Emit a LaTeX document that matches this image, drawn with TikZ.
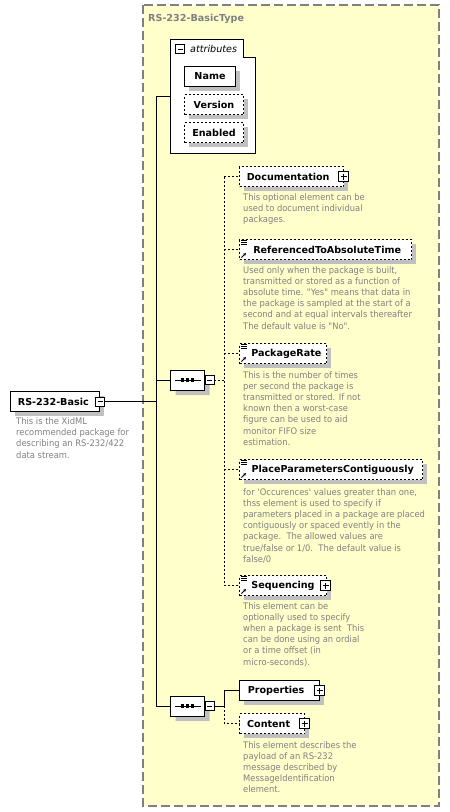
\documentclass[tikz,border=0pt]{standalone}
\usepackage{fontspec}
\setmainfont{DejaVu Sans}
\newfontfamily\descfont{DejaVu Sans}[FakeStretch=0.93]
\usetikzlibrary{arrows.meta,shapes.misc,shadows,positioning}
\definecolor{typefill}{HTML}{FFFFCC}
\definecolor{typeline}{HTML}{808080}
\definecolor{shade}{HTML}{C0C0C0}
\definecolor{desctext}{HTML}{808080}
\tikzset{
  elembox/.style={draw, fill=white, line width=1pt, minimum height=20pt, inner sep=0pt,
    font=\fontsize{9.6}{11}\selectfont\bfseries,
    general shadow={fill=shade, shadow xshift=4pt, shadow yshift=-4pt}},
  optbox/.style={elembox, dash pattern=on 2pt off 2pt},
  seqbox/.style={chamfered rectangle, chamfered rectangle xsep=5pt, draw, fill=white,
    line width=1pt, minimum width=34pt, minimum height=20pt, inner sep=0pt,
    general shadow={fill=shade, shadow xshift=5pt, shadow yshift=-5pt}},
  minusbox/.style={draw, fill=white, line width=0.8pt, minimum size=9pt, inner sep=0pt,
    path picture={\draw[line width=0.8pt] ([xshift=2pt]path picture bounding box.west)
      -- ([xshift=-2pt]path picture bounding box.east);}},
  plusbox/.style={draw, fill=white, line width=0.8pt, minimum size=10pt, inner sep=0pt,
    path picture={\draw[line width=0.8pt] ([xshift=2pt]path picture bounding box.west)
      -- ([xshift=-2pt]path picture bounding box.east)
      ([yshift=-2pt]path picture bounding box.north)
      -- ([yshift=2pt]path picture bounding box.south);}},
  desc/.style={anchor=north west, inner sep=0pt, align=left, text=desctext,
    font=\descfont\fontsize{9}{11.2}\selectfont},
  link/.style={line width=0.9pt},
  optlink/.style={line width=0.9pt, dash pattern=on 2pt off 2pt},
}
% reference marker in the top left corner of an element box
\newcommand\refmark[1]{%
  \foreach \k in {1.5,3.5,5.5}
    \draw[line width=0.6pt] ([xshift=2pt,yshift=-\k pt]#1.north west) -- ++(6,0);
  \draw[line width=0.9pt,-{Stealth[length=3pt,width=3pt]}]
    ([xshift=2.5pt,yshift=2.5pt]#1.south west) -- ++(4.5,-4.5);
}
\begin{document}
\begin{tikzpicture}[x=1pt,y=-1pt]
\useasboundingbox (0,0) rectangle (450,812);

% complex type frame
\draw[typeline, fill=typefill, line width=1.2pt, dash pattern=on 9pt off 4pt]
  (143,5) rectangle (439,806);
\node[anchor=west, inner sep=0pt, text=typeline, font=\fontsize{9.6}{11}\selectfont\bfseries]
  (typename) at (148,19) {RS-232-BasicType};

% attributes
\draw[fill=white, line width=1pt] (170,39) -- (243,39) -- (243,57) -- (255,57)
  -- (255,153) -- (170,153) -- cycle;
\coordinate (attr) at (170,96);
\node[minusbox] (attrminus) at (180,49) {};
\node[anchor=west, inner sep=0pt, font=\fontsize{9.6}{11}\selectfont\itshape]
  (attrlabel) at (190,48.5) {attributes};
\node[elembox, minimum width=51pt, anchor=north west] (name) at (184,66) {Name};
\node[optbox, minimum width=59pt, anchor=north west] (version) at (184,94) {Version};
\node[optbox, minimum width=59pt, anchor=north west] (enabled) at (184,122) {Enabled};

% root element
\node[elembox, minimum width=89pt, anchor=north west] (root) at (10,391) {RS-232-Basic~~};
\node[minusbox] (rootminus) at (root.east) {};
\node[desc] (rootdesc) at (16,417.5)
  {This is the XidML\\recommended package for\\describing an RS-232/422\\data stream.};

% sequences
\coordinate (spine) at (156,401);
\node[seqbox] (seq1) at (187.5,380) {};
\node[minusbox] (seq1minus) at ([xshift=4.5pt]seq1.east) {};
\node[seqbox] (seq2) at (187.5,706) {};
\node[minusbox] (seq2minus) at ([xshift=4.5pt]seq2.east) {};
\foreach \s in {seq1,seq2}{
  \draw[line width=0.9pt] ([xshift=-12.5pt]\s.center) -- ([xshift=13pt]\s.center);
  \foreach \d in {-5,0,5}
    \fill ([xshift=\d pt-1.6pt,yshift=-1.6pt]\s.center) rectangle ++(3.2,-3.2);
}
\coordinate (fork1) at (224,380);
\coordinate (fork2) at (224,706);

% elements of the first sequence
\node[optbox, minimum width=104pt, anchor=north west] (doc) at (239,166) {Documentation~~~};
\node[plusbox] (docplus) at ([xshift=-0.5pt]doc.east) {};
\node[desc] (docdesc) at (243,193)
  {This optional element can be\\used to document individual\\packages.};

\node[optbox, minimum width=172pt, anchor=north west] (refabs) at (239,239) {~ReferencedToAbsoluteTime};
\refmark{refabs}
\node[desc] (refabsdesc) at (243,266)
  {Used only when the package is built,\\transmitted or stored as a function of\\absolute time. "Yes" means that data in\\the package is sampled at the start of a\\second and at equal intervals thereafter\\The default value is "No".};

\node[optbox, minimum width=87pt, anchor=north west] (rate) at (239,343) {~~PackageRate};
\refmark{rate}
\node[desc] (ratedesc) at (243,371)
  {This is the number of times\\per second the package is\\transmitted or stored. If not\\known then a worst-case\\figure can be used to aid\\monitor FIFO size\\estimation.};

\node[optbox, minimum width=183pt, anchor=north west] (place) at (239,459) {~PlaceParametersContiguously};
\refmark{place}
\node[desc] (placedesc) at (243,488)
  {for \textquotesingle Occurences\textquotesingle\ values greater than one,\\thss element is used to specify if\\parameters placed in a package are placed\\contiguously or spaced evently in the\\package.~~The allowed values are\\true/false or 1/0.~~The default value is\\false/0};

\node[optbox, minimum width=87pt, anchor=north west] (seqn) at (239,575) {~~Sequencing~~~};
\refmark{seqn}
\node[plusbox] (seqnplus) at ([xshift=-1.5pt]seqn.east) {};
\node[desc] (seqndesc) at (243,602)
  {This element can be\\optionally used to specify\\when a package is sent~~This\\can be done using an ordial\\or a time offset (in\\micro-seconds).};

% elements of the second sequence
\node[elembox, minimum width=80pt, anchor=north west] (props) at (239,680) {Properties~~~};
\node[plusbox] (propsplus) at ([xshift=-0.5pt]props.east) {};
\node[optbox, minimum width=65pt, anchor=north west] (content) at (239,713) {Content~~~};
\node[plusbox] (contentplus) at ([xshift=-0.5pt]content.east) {};
\node[desc] (contentdesc) at (243,741)
  {This element describes the\\payload of an RS-232\\message described by\\MessageIdentification\\element.};

% connectors
\draw[link] (rootminus.east) -- (rootminus.east -| spine);
\draw[link] (attr) -- (attr -| spine) -- (spine |- seq2) -- (seq2.west);
\draw[link] (spine |- seq1) -- (seq1.west);
\draw[optlink] (seq1minus.east) -- (fork1);
\draw[optlink] (doc.west -| fork1) -- (seqn.west -| fork1);
\foreach \e in {doc,refabs,rate,place,seqn}
  \draw[optlink] (\e.west -| fork1) -- (\e.west);
\draw[link] (seq2minus.east) -- (fork2) |- (props.west);
\draw[optlink] (fork2) |- (content.west);
\end{tikzpicture}
\end{document}
